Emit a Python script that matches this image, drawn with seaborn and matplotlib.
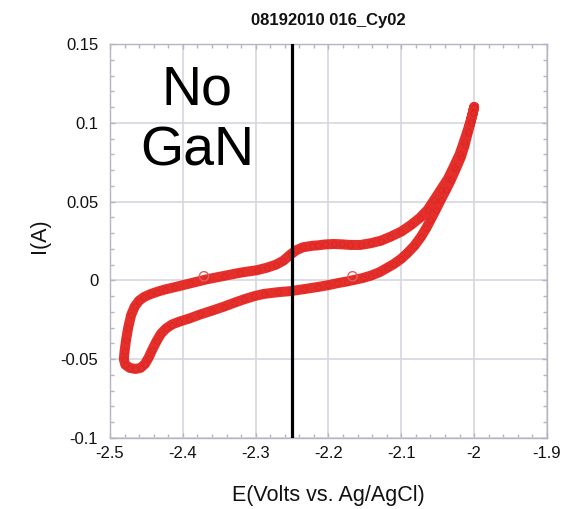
import matplotlib
matplotlib.use("Agg")
import matplotlib.pyplot as plt
import numpy as np
import pandas as pd
import seaborn as sns
from matplotlib.ticker import MultipleLocator

# ---- data (E in V vs Ag/AgCl, I in A) ----
# first part of the cycle: from -2.0 V along the upper branch into the left loop
E_upper = [-2.000, -2.002, -2.005, -2.009, -2.014, -2.020, -2.028, -2.036, -2.046,
           -2.055, -2.064, -2.075, -2.087, -2.100, -2.115, -2.128, -2.142, -2.156,
           -2.170, -2.182, -2.193, -2.205, -2.215, -2.222, -2.235, -2.244, -2.252,
           -2.262, -2.272, -2.285, -2.298, -2.321, -2.344, -2.367, -2.390, -2.412,
           -2.425, -2.435, -2.445, -2.453, -2.460, -2.466, -2.471, -2.475, -2.478,
           -2.480, -2.481, -2.479, -2.473, -2.465, -2.458, -2.452, -2.447, -2.442]
I_upper = [0.110, 0.106, 0.101, 0.095, 0.088, 0.080, 0.0721, 0.0645, 0.0574,
           0.051, 0.0447, 0.0395, 0.0351, 0.031, 0.0277, 0.0252, 0.0236, 0.0225,
           0.0225, 0.0229, 0.0231, 0.0228, 0.0222, 0.0220, 0.0210, 0.0192, 0.0165,
           0.0125, 0.0100, 0.0080, 0.0065, 0.0049, 0.0028, 0.0007, -0.0019, -0.0044,
           -0.0058, -0.0072, -0.0088, -0.0105, -0.0128, -0.0165, -0.022, -0.030, -0.038,
           -0.045, -0.050, -0.0535, -0.0555, -0.0562, -0.0555, -0.0530, -0.0490, -0.0440]
# second part: lower branch from the loop back to -2.0 V
E_lower = [-2.436, -2.430, -2.423, -2.415, -2.405, -2.392, -2.376, -2.360, -2.344,
           -2.330, -2.316, -2.302, -2.289, -2.270, -2.252, -2.233, -2.215, -2.200,
           -2.188, -2.175, -2.165, -2.153, -2.142, -2.130, -2.120, -2.110, -2.100,
           -2.092, -2.082, -2.073, -2.066, -2.060, -2.053, -2.046, -2.039, -2.032,
           -2.025, -2.018, -2.013, -2.009, -2.005, -2.002, -2.000]
I_lower = [-0.0385, -0.0338, -0.0305, -0.0280, -0.0262, -0.0243, -0.0216, -0.0192, -0.0167,
           -0.0143, -0.0120, -0.0100, -0.0086, -0.0075, -0.0068, -0.0055, -0.0042, -0.0030,
           -0.0018, -0.0007, 0.0003, 0.0015, 0.0030, 0.0052, 0.0078, 0.0105, 0.0138,
           0.0172, 0.022, 0.0277, 0.033, 0.0383, 0.0445, 0.0510, 0.0572, 0.0637,
           0.071, 0.0785, 0.086, 0.0933, 0.100, 0.106, 0.110]
# isolated open points visible off the band
E_stray = [-2.371, -2.167]
I_stray = [0.0026, 0.0026]

vline_E = -2.25
title = "08192010 016_Cy02"
xlabel = "E(Volts vs. Ag/AgCl)"
ylabel = "I(A)"
annot_lines = ["No", "GaN"]

# ---- figure ----
sns.set_theme(style="white")
plt.rcParams["font.family"] = ["Liberation Sans", "DejaVu Sans"]
plt.rcParams["axes.unicode_minus"] = False

W, H = 563, 509
fig = plt.figure(figsize=(W / 100, H / 100), dpi=100)
ax = fig.add_axes([110 / W, 1 - 438 / H, 437 / W, 394 / H])

df = pd.DataFrame({"E": E_upper + E_lower, "I": I_upper + I_lower})
red = "#e3241f"
sns.lineplot(data=df, x="E", y="I", sort=False, estimator=None, ax=ax,
             color=red, linewidth=7.2, alpha=0.95, marker="o", markersize=4,
             markerfacecolor="none", markeredgecolor="#d92020", markeredgewidth=0.4,
             solid_capstyle="round", solid_joinstyle="round", zorder=3)
sns.scatterplot(x=E_stray, y=I_stray, ax=ax, marker="o", s=45, facecolor="none",
                edgecolor="#e06060", linewidth=1.0, zorder=3)

ax.axvline(vline_E, color="black", linewidth=2.3, zorder=4)

ax.set_xlim(-2.5, -1.9)
ax.set_ylim(-0.1, 0.15)
ax.xaxis.set_major_locator(MultipleLocator(0.1))
ax.xaxis.set_minor_locator(MultipleLocator(0.02))
ax.yaxis.set_major_locator(MultipleLocator(0.05))
ax.yaxis.set_minor_locator(MultipleLocator(0.01))
ax.set_xticks(np.arange(-2.5, -1.85, 0.1))
ax.set_xticklabels(["-2.5", "-2.4", "-2.3", "-2.2", "-2.1", "-2", "-1.9"])
ax.set_yticks([-0.1, -0.05, 0, 0.05, 0.1, 0.15])
ax.set_yticklabels(["-0.1", "-0.05", "0", "0.05", "0.1", "0.15"])

gridc = "#d6d6e0"
framec = "#b4b4c4"
ax.grid(True, which="major", color=gridc, linewidth=1.2, zorder=0)
for s in ax.spines.values():
    s.set_color(framec)
    s.set_linewidth(1.0)
ax.tick_params(which="both", direction="in", top=True, right=True, bottom=True, left=True,
               color=framec, width=1.0)
ax.tick_params(which="major", length=3.5)
ax.tick_params(which="minor", length=3)
ax.tick_params(axis="x", which="major", labelsize=12, pad=6, labelcolor="#111111")
ax.tick_params(axis="y", which="major", labelsize=12, pad=8.5, labelcolor="#111111")

ax.set_xlabel(xlabel, fontsize=15.5, color="#111111")
ax.xaxis.label.set_va("center")
ax.xaxis.set_label_coords(0.5, (438 - 496) / 394)
ax.set_ylabel(ylabel, fontsize=15.5, color="#111111")
ax.yaxis.label.set_va("center")
ax.yaxis.set_label_coords((40 - 110) / 437, (438 - 236) / 394)

fig.text((110 + 547) / 2 / W, 1 - 20 / H, title, ha="center", va="center",
         fontsize=12, fontweight="bold", color="#111111")

ax.text(-2.3806, 0.1113, annot_lines[0], ha="center", va="baseline", fontsize=40,
        color="black", zorder=5)
ax.text(-2.3806, 0.0732, annot_lines[1], ha="center", va="baseline", fontsize=40,
        color="black", zorder=5)

fig.savefig("out.png", dpi=100, facecolor="white")
